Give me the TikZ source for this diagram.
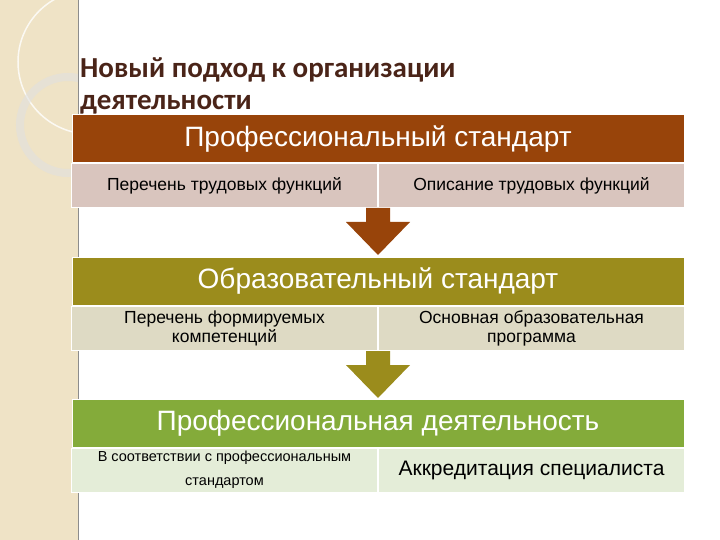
\documentclass[tikz,border=0pt]{standalone}
\usepackage{fontspec}
\setmainfont{Liberation Sans}
\newfontfamily\titlefont{Carlito}
\definecolor{band}{HTML}{EFE3C6}
\definecolor{ttl}{HTML}{4A2418}
\definecolor{h1}{HTML}{98440A}
\definecolor{r1}{HTML}{D9C5BE}
\definecolor{h2}{HTML}{9B8C1C}
\definecolor{r2}{HTML}{DEDAC4}
\definecolor{h3}{HTML}{84AB3A}
\definecolor{r3}{HTML}{E4EDD8}
\tikzset{
 hdr/.style={draw=white,line width=1pt,minimum width=612pt,minimum height=48pt,inner sep=0pt,text=white,font=\fontsize{28}{30}\selectfont},
 cell/.style={draw=white,line width=1pt,minimum width=306pt,minimum height=44pt,inner sep=2pt,align=center,font=\fontsize{17.5}{19}\selectfont}
}
\begin{document}
\begin{tikzpicture}[x=1pt,y=-1pt]
\useasboundingbox (0,0) rectangle (720,540);
\fill[white] (0,0) rectangle (720,540);
\fill[band] (0,0) rectangle (78,540);
\begin{scope}
\clip (0,0) rectangle (78,540);
\draw[white,line width=1.5pt,opacity=0.8] (90,62) circle (72);
\draw[black!12,line width=8pt,opacity=0.6] (68,125) circle (48);
\end{scope}
\draw[black!45,line width=0.8pt] (78,0) -- (78,540);
\node[anchor=west,text=ttl,font=\titlefont\bfseries\fontsize{29}{32}\selectfont,align=left,inner sep=0pt] (title) at (80,86) {Новый подход к организации\\деятельности};
% block 1
\node[hdr,fill=h1] (p1) at (378,139) {Профессиональный стандарт};
\node[cell,fill=r1,anchor=north east] (p1a) at (p1.south) {Перечень трудовых функций};
\node[cell,fill=r1,anchor=north west] (p1b) at (p1.south) {Описание трудовых функций};
\fill[h1] (366,208) -- (390,208) -- (390,222) -- (410,222) -- (378,255) -- (346,222) -- (366,222) -- cycle;
% block 2
\node[hdr,fill=h2] (p2) at (378,281) {Образовательный стандарт};
\node[cell,fill=r2,anchor=north east] (p2a) at (p2.south) {Перечень формируемых\\компетенций};
\node[cell,fill=r2,anchor=north west] (p2b) at (p2.south) {Основная образовательная\\программа};
\fill[h2] (366,351) -- (390,351) -- (390,365) -- (410,365) -- (378,398) -- (346,365) -- (366,365) -- cycle;
% block 3
\node[hdr,fill=h3] (p3) at (378,423) {Профессиональная деятельность};
\node[cell,fill=r3,anchor=north east,font=\fontsize{14.5}{24}\selectfont] (p3a) at (p3.south) {В соответствии с профессиональным\\стандартом};
\node[cell,fill=r3,anchor=north west,font=\fontsize{21}{23}\selectfont] (p3b) at (p3.south) {Аккредитация специалиста};
\end{tikzpicture}
\end{document}
